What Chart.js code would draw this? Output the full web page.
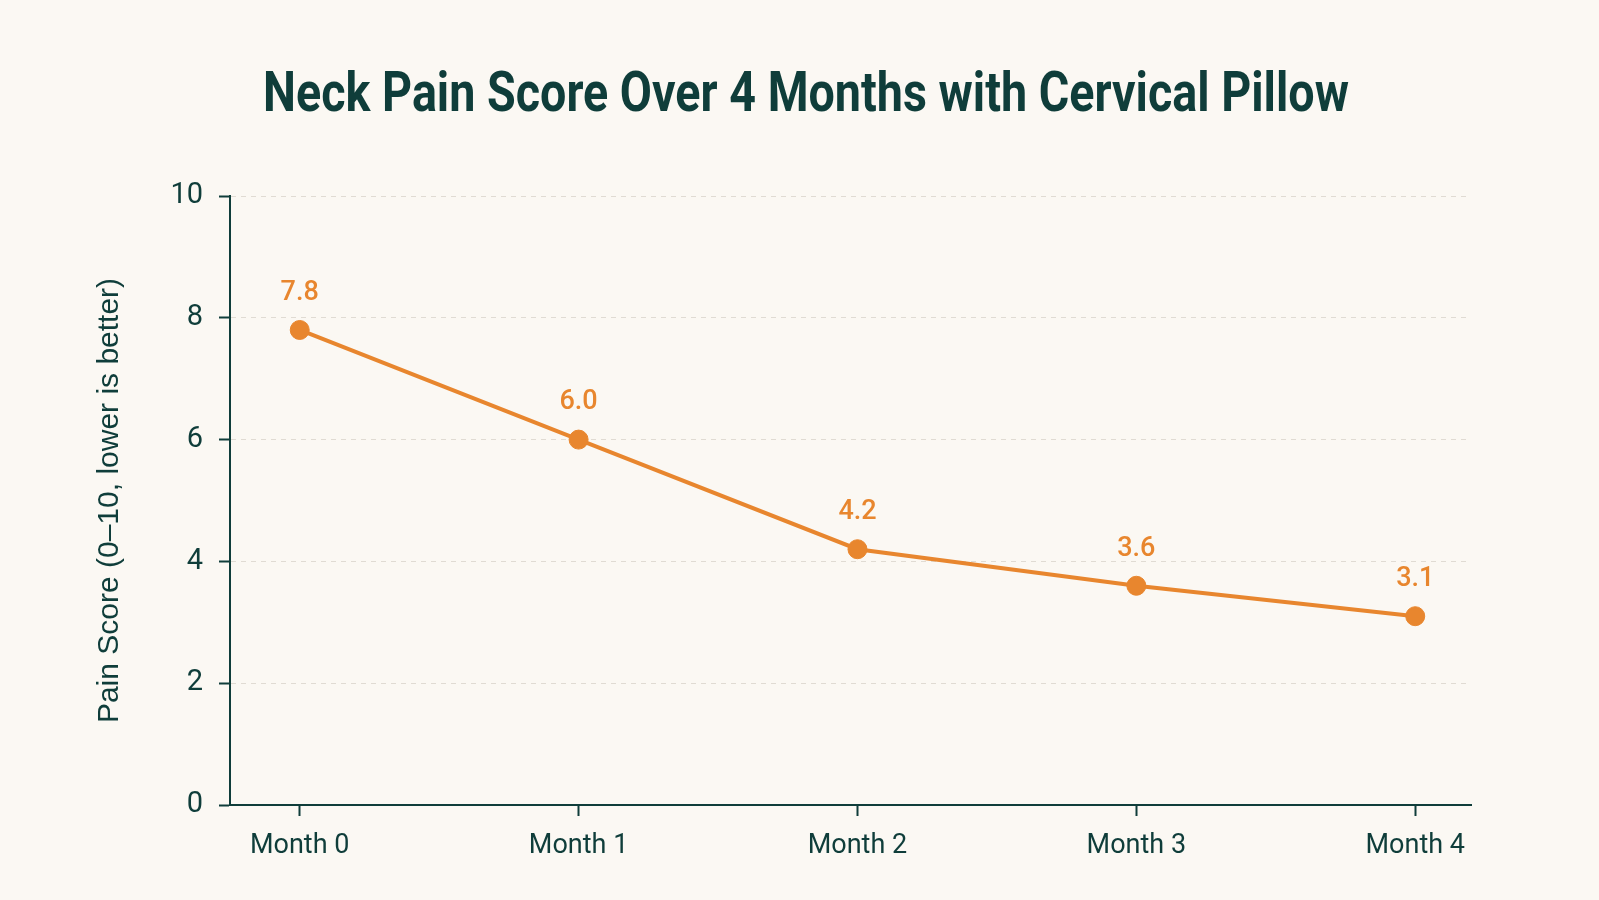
<!DOCTYPE html>
<html lang="en">
<head>
  <meta charset="UTF-8" />
  <title>Neck Pain Score Over 4 Months with Cervical Pillow</title>
  <script src="https://cdn.jsdelivr.net/npm/chart.js"></script>
  <style>
    html, body { margin: 0; padding: 0; background: #FBF8F3; }
    #wrap { width: 1599px; height: 900px; position: relative; }
    #title {
      position: absolute; left: 806px; top: 92px; margin: 0;
      font-family: Roboto, sans-serif; font-weight: 700; font-size: 56px;
      color: #0F3D3A; white-space: nowrap; line-height: 1;
      transform-origin: center center;
    }
  </style>
</head>
<body>
  <div id="wrap">
    <h1 id="title">Neck Pain Score Over 4 Months with Cervical Pillow</h1>
    <canvas id="painChart"></canvas>
  </div>

  <script>
    // data
    const months = ["Month 0", "Month 1", "Month 2", "Month 3", "Month 4"];
    const painScores = [7.8, 6.0, 4.2, 3.6, 3.1];
    const yTickValues = [0, 2, 4, 6, 8, 10];

    const teal = "#0F3D3A";
    const orange = "#E8862E";

    // squeeze the title to the narrow width of the original
    const title = document.getElementById("title");
    const sx = 1086 / title.offsetWidth;
    title.style.transform = `translate(-50%, -50%) scaleX(${sx})`;

    // value labels above points
    const valueLabels = {
      id: "valueLabels",
      afterDatasetsDraw(chart) {
        const ctx = chart.ctx;
        const meta = chart.getDatasetMeta(0);
        ctx.save();
        ctx.font = "500 27px Roboto";
        ctx.fillStyle = orange;
        ctx.textAlign = "center";
        ctx.textBaseline = "middle";
        meta.data.forEach((pt, i) => {
          ctx.fillText(painScores[i].toFixed(1), pt.x, pt.y - 37);
        });
        ctx.restore();
      }
    };

    const ctx = document.getElementById("painChart").getContext("2d");
    new Chart(ctx, {
      type: "line",
      data: {
        datasets: [{
          data: painScores.map((v, i) => ({ x: i, y: v })),
          borderColor: orange,
          backgroundColor: orange,
          borderWidth: 4,
          pointRadius: 9.5,
          pointBorderWidth: 1,
          pointBackgroundColor: orange,
          tension: 0
        }]
      },
      options: {
        responsive: true,
        maintainAspectRatio: false,
        animation: false,
        layout: { padding: { left: 0, right: 128, top: 196, bottom: 0 } },
        plugins: {
          legend: { display: false },
          tooltip: { enabled: false },
          title: { display: false }
        },
        scales: {
          x: {
            type: "linear",
            min: -0.25,
            max: 4.2,
            afterFit: s => { s.height = 95; },
            afterBuildTicks: s => { s.ticks = months.map((m, i) => ({ value: i })); },
            ticks: {
              callback: v => months[v] ?? "",
              color: teal,
              font: { family: "Roboto", size: 27 },
              padding: 14,
              maxRotation: 0
            },
            grid: { drawOnChartArea: false, drawTicks: true, tickLength: 11, tickColor: teal, tickWidth: 2 },
            border: { color: teal, width: 2 }
          },
          y: {
            min: 0,
            max: 10,
            afterFit: s => { s.width = 230; },
            afterBuildTicks: s => { s.ticks = yTickValues.map(v => ({ value: v })); },
            ticks: {
              color: teal,
              font: { family: "Roboto", size: 29 },
              padding: 16
            },
            grid: {
              color: c => c.tick && c.tick.value === 0 ? "rgba(0,0,0,0)" : "#E0DBD3",
              lineWidth: 1,
              tickLength: 11,
              tickColor: teal,
              tickWidth: 2,
              tickBorderDash: []
            },
            border: { color: teal, width: 2, dash: [5, 5] },
            title: {
              display: true,
              text: "Pain Score (0–10, lower is better)",
              color: teal,
              font: { family: "'Liberation Sans', Arial, sans-serif", size: 30 },
              padding: { top: 92, bottom: 0 }
            }
          }
        }
      },
      plugins: [valueLabels]
    });
  </script>
</body>
</html>
